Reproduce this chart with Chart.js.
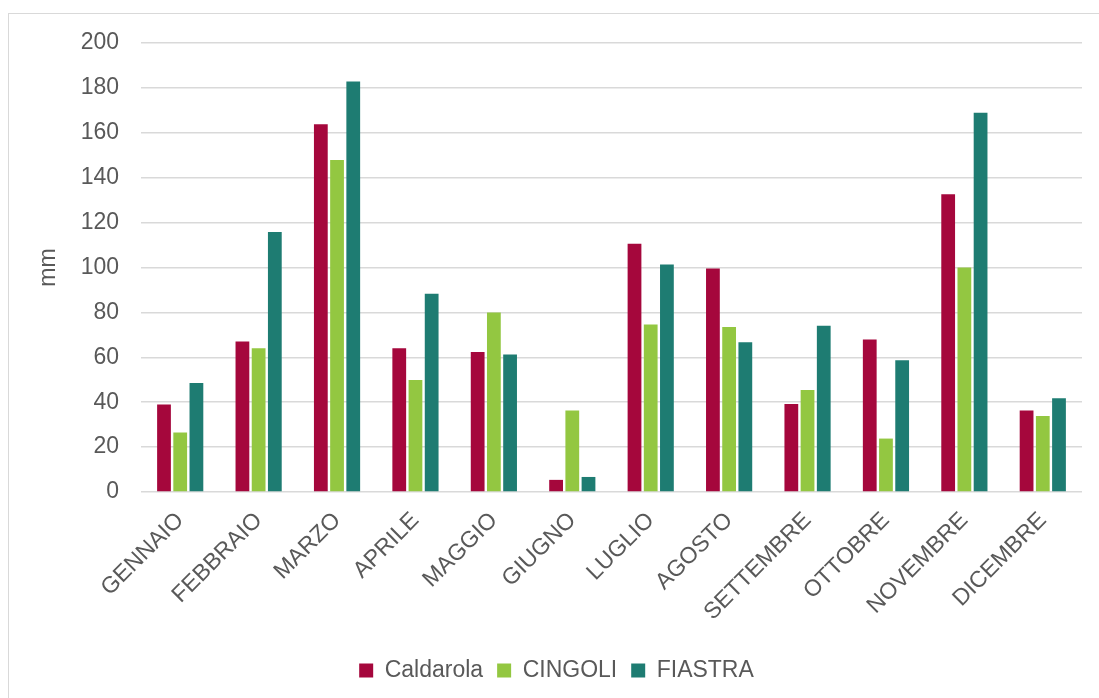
<!DOCTYPE html>
<html>
<head>
<meta charset="utf-8">
<title>Precipitazioni mensili</title>
<script src="https://cdn.jsdelivr.net/npm/chart.js@4"></script>
<style>
  html, body { margin: 0; padding: 0; background: #ffffff; }
  #wrap { position: relative; width: 1099px; height: 698px; overflow: hidden; }
  #frame { position: absolute; left: 8px; top: 13px; width: 1200px; height: 800px;
           border-left: 1.5px solid #d9d9d9; border-top: 1.5px solid #d9d9d9; box-sizing: border-box; }
  canvas { position: absolute; left: 0; top: 0; }
</style>
</head>
<body>
<div id="wrap">
  <div id="frame"></div>
  <canvas id="chart" width="1099" height="698"></canvas>
</div>
<script>
// Monthly rainfall (mm) for three stations
const months = ['GENNAIO', 'FEBBRAIO', 'MARZO', 'APRILE', 'MAGGIO', 'GIUGNO',
                'LUGLIO', 'AGOSTO', 'SETTEMBRE', 'OTTOBRE', 'NOVEMBRE', 'DICEMBRE'];
const caldarola = [39.0, 67.0, 163.8, 64.0, 62.4, 5.4, 110.6, 99.6, 39.2, 67.9, 132.6, 36.3];
const cingoli   = [26.5, 64.0, 147.9, 49.9, 79.9, 36.3, 74.6, 73.5, 45.4, 23.8, 100.0, 33.8];
const fiastra   = [48.5, 115.8, 182.8, 88.3, 61.3, 6.7, 101.3, 66.7, 74.1, 58.7, 168.9, 41.8];
const yTicks = [0, 20, 40, 60, 80, 100, 120, 140, 160, 180, 200];

const textColor = '#595959';
const gridColor = '#d9d9d9';
const fontFamily = '"Liberation Sans", Arial, sans-serif';

function series(label, data, color) {
  return {
    label: label,
    data: data,
    backgroundColor: color,
    borderWidth: 0,
    barPercentage: 0.85,
    categoryPercentage: 0.62
  };
}

new Chart(document.getElementById('chart'), {
  type: 'bar',
  data: {
    labels: months,
    datasets: [
      series('Caldarola', caldarola, '#a5073c'),
      series('CINGOLI', cingoli, '#93c741'),
      series('FIASTRA', fiastra, '#1e7c72')
    ]
  },
  options: {
    responsive: false,
    devicePixelRatio: 1,
    animation: false,
    layout: { padding: { left: 31, right: 17, top: 43, bottom: 6 } },
    plugins: {
      tooltip: { enabled: false },
      legend: {
        position: 'bottom',
        labels: {
          color: textColor,
          font: { family: fontFamily, size: 23 },
          boxWidth: 14,
          boxHeight: 14,
          padding: 14
        }
      }
    },
    scales: {
      x: {
        grid: { display: false },
        border: { display: false },
        ticks: {
          color: textColor,
          font: { family: fontFamily, size: 23 },
          maxRotation: 45,
          minRotation: 45,
          padding: 7,
          autoSkip: false
        },
        afterFit: function (scale) { scale.height = 153; }
      },
      y: {
        min: 0,
        max: 200,
        afterBuildTicks: function (scale) {
          scale.ticks = yTicks.map(function (v) { return { value: v }; });
        },
        grid: { color: gridColor, lineWidth: 1.5, drawTicks: false },
        border: { display: false },
        ticks: {
          color: textColor,
          font: { family: fontFamily, size: 23 },
          padding: 22
        },
        title: {
          display: true,
          text: 'mm',
          color: textColor,
          font: { family: fontFamily, size: 23 },
          padding: { top: 4, bottom: 4 }
        },
        afterFit: function (scale) { scale.width = 110; }
      }
    }
  }
});
</script>
</body>
</html>
